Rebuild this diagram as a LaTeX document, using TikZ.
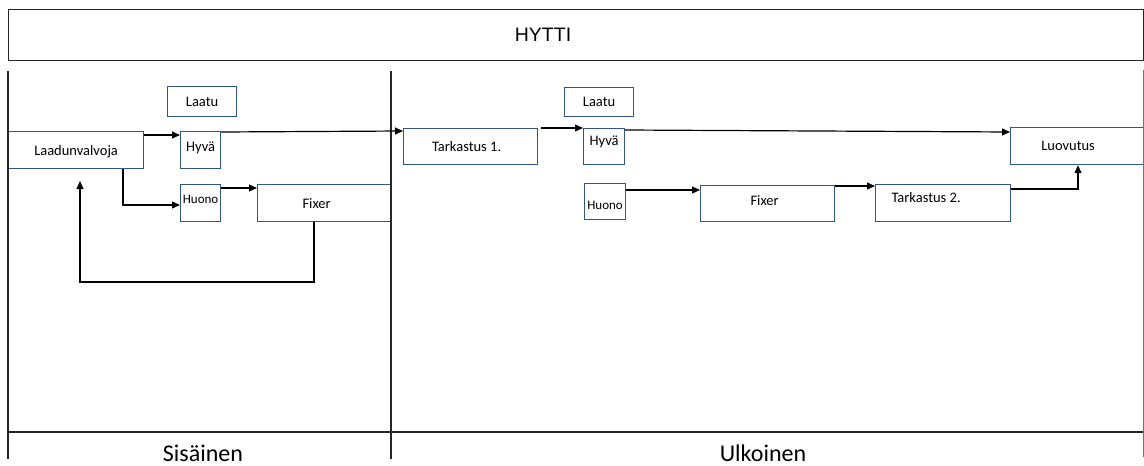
\documentclass[tikz,border=0pt]{standalone}
\usepackage{fontspec}
\setmainfont{Carlito}
\newfontfamily\arialf{Liberation Sans}
\usetikzlibrary{arrows.meta,calc}
\definecolor{boxblue}{RGB}{47,85,151}
\tikzset{
  box/.style={draw=boxblue, line width=1.2pt, anchor=north west, inner sep=0pt, font=\fontsize{14.5}{16}\selectfont},
  arr/.style={draw=black, line width=1.2pt, -{Triangle[length=8pt,width=7pt]}},
  frame/.style={draw=black!85, line width=1.4pt},
  lane/.style={font=\fontsize{24}{28}\selectfont, anchor=base}
}
\begin{document}
\begin{tikzpicture}[x=1pt,y=-1pt]
\useasboundingbox (0,0) rectangle (1144,466);
% title
\node[frame, draw, anchor=north west, minimum width=1135pt, minimum height=51pt, inner sep=0pt] (top) at (8,9) {};
\node[font=\arialf\fontsize{19.5}{22}\selectfont] (title) at (543,35) {HYTTI};
% left section boxes
\node[box, minimum width=69pt, minimum height=30pt] (laatuL) at (167,86) {Laatu};
\node[box, minimum width=135pt, minimum height=37pt, label={[yshift=-2pt,font=\fontsize{14.5}{16}\selectfont]center:Laadunvalvoja}] (lv) at (8,131) {};
\node[box, minimum width=40pt, minimum height=37pt, label={[yshift=2pt,font=\fontsize{14.5}{16}\selectfont]center:Hyvä}] (hyvL) at (180,131) {};
\node[box, minimum width=40pt, minimum height=37pt, label={[yshift=4pt,font=\fontsize{13}{15}\selectfont]center:Huono}] (huoL) at (180,184) {};
\node[box, minimum width=134pt, minimum height=37pt, label={[xshift=-8pt,font=\fontsize{14.5}{16}\selectfont]center:Fixer}] (fixL) at (257,184) {};
% right section boxes
\node[box, minimum width=134pt, minimum height=36pt, label={[xshift=-4pt,font=\fontsize{14.5}{16}\selectfont]center:Tarkastus 1.}] (t1) at (403,128) {};
\node[box, minimum width=69pt, minimum height=29pt] (laatuR) at (564,87) {Laatu};
\node[box, minimum width=41pt, minimum height=36pt, label={[yshift=5pt,font=\fontsize{14.5}{16}\selectfont]center:Hyvä}] (hyvR) at (583,128) {};
\node[box, minimum width=41pt, minimum height=36pt, label={[yshift=-4pt,font=\fontsize{13}{15}\selectfont]center:Huono}] (huoR) at (584,183) {};
\node[box, minimum width=134pt, minimum height=36pt, label={[xshift=-3pt,yshift=3pt,font=\fontsize{14.5}{16}\selectfont]center:Fixer}] (fixR) at (700,185) {};
\node[box, minimum width=135pt, minimum height=37pt, label={[xshift=-17pt,yshift=6pt,font=\fontsize{14.5}{16}\selectfont]center:Tarkastus 2.}] (t2) at (875,184) {};
\node[box, minimum width=133pt, minimum height=37pt, label={[xshift=-9pt,font=\fontsize{14.5}{16}\selectfont]center:Luovutus}] (luo) at (1010,127) {};
% frame lines
\draw[frame] (8,71) -- (8,459);
\draw[frame] (391,71) -- (391,459);
\draw[draw=black!55, line width=1pt] (1143,70) -- (1143,457);
\draw[frame] (8,432) -- (1143,432);
\node[lane] (sis) at (203,461) {Sisäinen};
\node[lane] (ulk) at (763,461) {Ulkoinen};
% connectors left
\draw[arr] (lv.east |- 0,135) -- (hyvL.west |- 0,135);
\draw[arr] (hyvL.east |- 0,132) -- (t1.west |- 0,131);
\draw[arr] (lv.south -| 123,0) |- (huoL.west |- 0,205);
\draw[arr] (huoL.east |- 0,188) -- (fixL.west |- 0,188);
\coordinate (fb) at (80,181);
\draw[arr] (fixL.south -| 314,0) -- (314,282) -| (fb);
% connectors right
\draw[arr] ($(t1.north east)+(3,0)$) -- (hyvR.north west);
\draw[arr] (hyvR.east |- 0,130) -- (luo.west |- 0,132);
\draw[arr] (huoR.east |- 0,190) -- (fixR.west |- 0,190);
\draw[arr] (fixR.east |- 0,186) -- (t2.west |- 0,186);
\draw[arr] (t2.east |- 0,189) -| (luo.south -| 1078,0);
\end{tikzpicture}
\end{document}
